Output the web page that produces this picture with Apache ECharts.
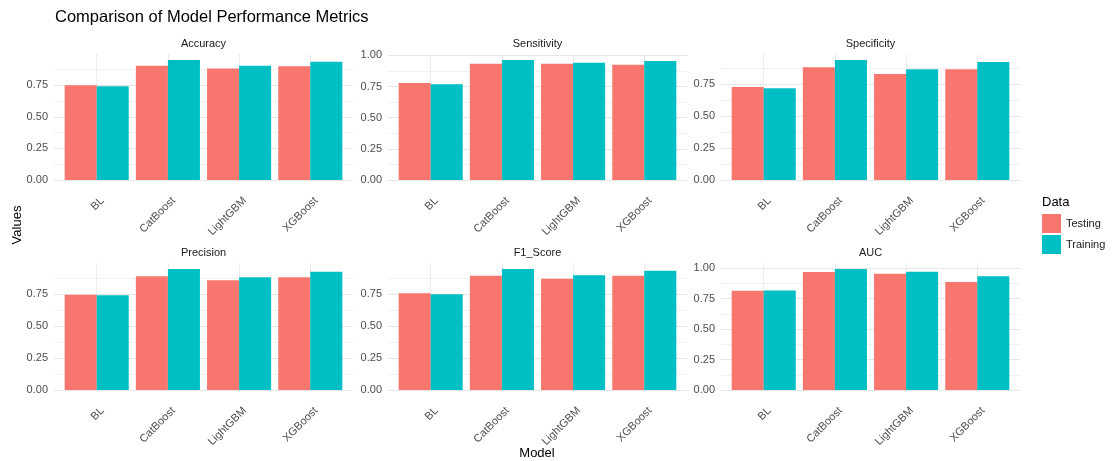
<!DOCTYPE html>
<html>
<head>
<meta charset="utf-8">
<title>Comparison of Model Performance Metrics</title>
<script src="https://cdn.jsdelivr.net/npm/echarts@6/dist/echarts.min.js"></script>
<style>
  html, body { margin: 0; padding: 0; background: #fff; }
  #chart { width: 1117px; height: 461px; }
</style>
</head>
<body>
<div id="chart"></div>
<script>
// models on the x axis of every facet
var models = ["BL", "CatBoost", "LightGBM", "XGBoost"];
var metrics = ["Accuracy", "Sensitivity", "Specificity", "Precision", "F1_Score", "AUC"];
var yBreaks = [0, 0.25, 0.5, 0.75, 1];

// values
var accuracyTesting = [0.750, 0.905, 0.882, 0.900];
var accuracyTraining = [0.742, 0.950, 0.905, 0.937];
var sensitivityTesting = [0.778, 0.933, 0.933, 0.925];
var sensitivityTraining = [0.768, 0.963, 0.941, 0.955];
var specificityTesting = [0.729, 0.883, 0.831, 0.867];
var specificityTraining = [0.719, 0.940, 0.867, 0.924];
var precisionTesting = [0.745, 0.888, 0.857, 0.880];
var precisionTraining = [0.740, 0.945, 0.880, 0.924];
var f1Testing = [0.755, 0.893, 0.870, 0.893];
var f1Training = [0.748, 0.945, 0.896, 0.932];
var aucTesting = [0.816, 0.970, 0.956, 0.887];
var aucTraining = [0.818, 0.994, 0.972, 0.934];

var testing = [accuracyTesting, sensitivityTesting, specificityTesting, precisionTesting, f1Testing, aucTesting];
var training = [accuracyTraining, sensitivityTraining, specificityTraining, precisionTraining, f1Training, aucTraining];

var FONT = "'Liberation Sans', Arial, sans-serif";
var colLeft = [54, 388, 721];
var rowTop = [54, 263];
var rowHeight = [126, 127];
var panelWidth = 299;

// ggplot style discrete positions: 0.6 expansion on each side
var xPos = models.map(function (m, i) { return i + 0.6; });
var labelShift = 0.08;
var labelPos = xPos.map(function (p) { return p + labelShift; });

var grids = [], xAxes = [], yAxes = [], series = [], graphics = [];

metrics.forEach(function (name, k) {
  var col = k % 3, row = Math.floor(k / 3);
  var top = Math.max.apply(null, testing[k].concat(training[k]));
  grids.push({
    left: colLeft[col], top: rowTop[row], width: panelWidth, height: rowHeight[row],
    outerBoundsMode: "none"
  });
  xAxes.push({
    type: "value", gridIndex: k, min: 0, max: models.length + 0.2,
    axisLine: { show: false }, axisTick: { show: false }, splitLine: { show: false },
    axisLabel: {
      customValues: labelPos, rotate: 45, margin: 19,
      color: "#4d4d4d", fontSize: 11, fontFamily: FONT,
      formatter: function (v) { return models[Math.round(v - 0.6 - labelShift)] || ""; }
    }
  });
  yAxes.push({
    type: "value", gridIndex: k, min: 0, max: top * 1.05, interval: 0.125,
    axisLine: { show: false }, axisTick: { show: false },
    axisLabel: {
      margin: 6, color: "#4d4d4d", fontSize: 11, fontFamily: FONT,
      formatter: function (v) {
        for (var i = 0; i < yBreaks.length; i++) {
          if (Math.abs(v - yBreaks[i]) < 1e-9) return v.toFixed(2);
        }
        return "";
      }
    },
    splitLine: { show: true, showMaxLine: false, lineStyle: { color: ["#e6e6e6", "#f2f2f2"], width: 1 } }
  });
  // vertical grid lines at each model, kept behind the bars
  series.push({
    type: "line", xAxisIndex: k, yAxisIndex: k, data: [], z: 0, silent: true,
    markLine: {
      z: 0, silent: true, symbol: ["none", "none"], label: { show: false },
      lineStyle: { color: "#ececec", type: "solid", width: 1 },
      data: xPos.map(function (p) { return { xAxis: p }; })
    }
  });
  series.push({
    type: "bar", name: "Testing", xAxisIndex: k, yAxisIndex: k, z: 2, silent: true,
    barWidth: "45%", barGap: "0%",
    itemStyle: { color: "#F8766D" },
    data: testing[k].map(function (v, i) { return [xPos[i], v]; })
  });
  series.push({
    type: "bar", name: "Training", xAxisIndex: k, yAxisIndex: k, z: 2, silent: true,
    barWidth: "45%", barGap: "0%",
    itemStyle: { color: "#00BFC4" },
    data: training[k].map(function (v, i) { return [xPos[i], v]; })
  });
  // facet strip title
  graphics.push({
    type: "text", x: colLeft[col] + panelWidth / 2, y: rowTop[row] - 10,
    style: { text: name, font: "11px " + FONT, fill: "#1a1a1a", textAlign: "center", textVerticalAlign: "middle" }
  });
});

graphics.push(
  { type: "text", x: 55, y: 17,
    style: { text: "Comparison of Model Performance Metrics", font: "16.5px " + FONT, fill: "#000", textAlign: "left", textVerticalAlign: "middle" } },
  { type: "text", x: 17, y: 225, rotation: Math.PI / 2,
    style: { text: "Values", font: "13px " + FONT, fill: "#000", textAlign: "center", textVerticalAlign: "middle" } },
  { type: "text", x: 537, y: 453,
    style: { text: "Model", font: "13px " + FONT, fill: "#000", textAlign: "center", textVerticalAlign: "middle" } },
  { type: "text", x: 1042, y: 202,
    style: { text: "Data", font: "13px " + FONT, fill: "#000", textAlign: "left", textVerticalAlign: "middle" } }
);

var myChart = echarts.init(document.getElementById("chart"));
myChart.setOption({
  animation: false,
  backgroundColor: "#fff",
  grid: grids,
  xAxis: xAxes,
  yAxis: yAxes,
  legend: {
    data: ["Testing", "Training"], orient: "vertical", left: 1042, top: 214,
    padding: 0, itemGap: 2, itemWidth: 19, itemHeight: 19, icon: "rect",
    selectedMode: false,
    textStyle: { fontSize: 11, color: "#1a1a1a", fontFamily: FONT }
  },
  graphic: graphics,
  series: series
});
</script>
</body>
</html>
